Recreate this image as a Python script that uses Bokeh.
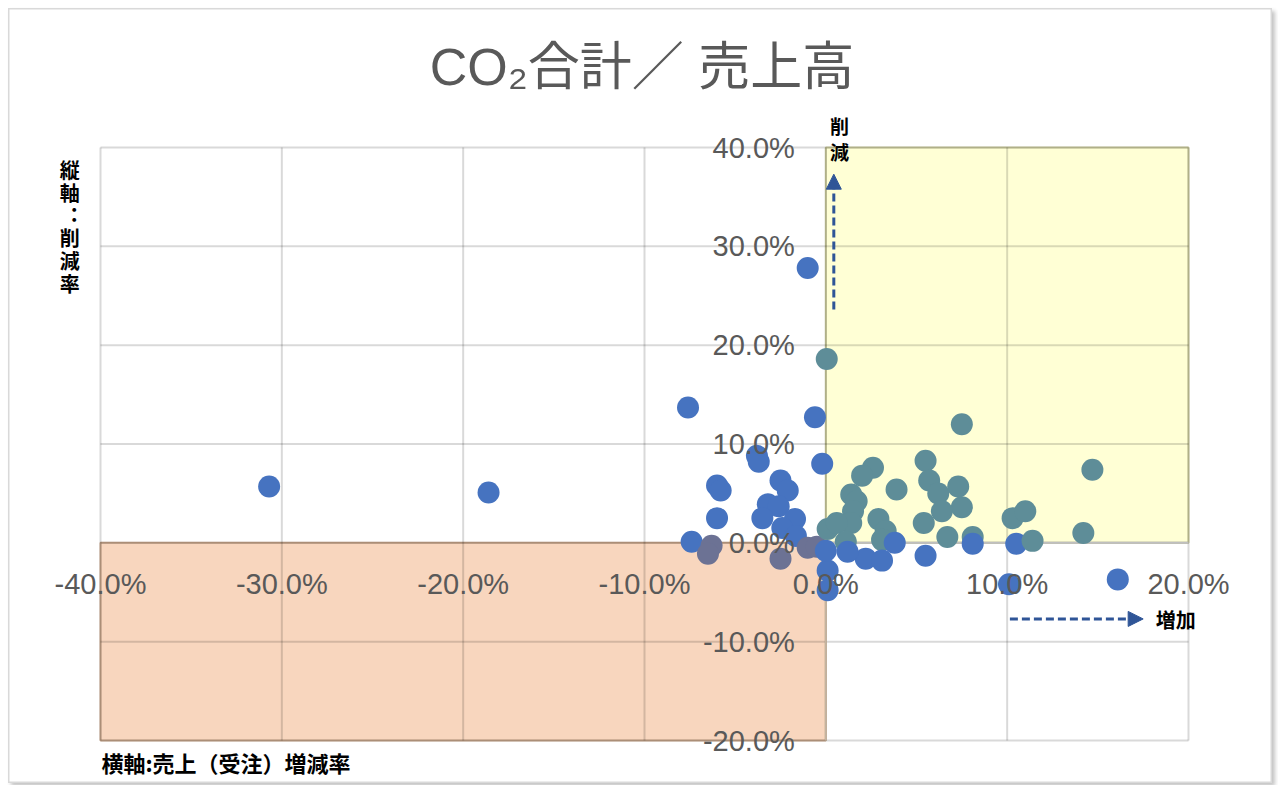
from bokeh.plotting import figure
from bokeh.models import Arrow, NormalHead, Range1d
from bokeh.embed import file_html
from bokeh.resources import INLINE
from bokeh.core.properties import value

# ---- data, percent ----
sales_change = [-30.7, -18.6, -7.6, -1.0, 0.05, -0.6, 7.5, 14.7, 16.1, 10.1,
                14.2, 10.3, 11.0, 10.5, 11.4, -3.8, -3.7, -0.2, -6.0, -5.8,
                -2.5, -2.1, -3.2, -2.6, -3.5, -6.0, -1.7, -2.4, -1.65, -7.4,
                -6.3, -6.5, -2.5, -1.0, -0.5, 0.1, 0.1, 0.0, 0.1, 2.6,
                2.0, 3.9, 1.4, 1.7, 1.5, 1.4, 0.6, 2.9, 3.3, 1.1,
                3.1, 3.8, 2.2, 3.1, 1.2, 5.5, 5.7, 6.2, 7.3, 7.5,
                6.4, 5.4, 6.7, 8.1, 8.1, 5.5]
co2_reduction = [5.7, 5.1, 13.7, 27.8, 18.6, 12.7, 12.0, 7.4, -3.7, -4.2,
                 1.0, 2.5, 3.2, -0.1, 0.2, 8.8, 8.2, 8.0, 5.8, 5.3,
                 6.3, 5.3, 3.9, 3.7, 2.5, 2.5, 2.4, 1.5, 0.7, 0.1,
                 -0.3, -1.1, -1.6, -0.5, -0.4, -2.8, -4.8, -0.8, 1.4, 7.6,
                 6.8, 5.4, 4.9, 4.2, 3.2, 2.0, 2.0, 2.4, 1.2, 0.1,
                 0.3, 0.0, -1.6, -1.8, -0.9, 8.3, 6.3, 5.0, 5.7, 3.6,
                 3.2, 2.0, 0.6, 0.6, -0.1, -1.3]

x_ticks = [-40, -30, -20, -10, 0, 10, 20]
x_tick_labels = ["-40.0%", "-30.0%", "-20.0%", "-10.0%", "0.0%", "10.0%", "20.0%"]
y_ticks = [-20, -10, 0, 10, 20, 30, 40]
y_tick_labels = ["-20.0%", "-10.0%", "0.0%", "10.0%", "20.0%", "30.0%", "40.0%"]

title_text = "CO₂合計／ 売上高"
y_title = "縦\n軸\n︓\n削\n減\n率"
x_title = "横軸:売上（受注）増減率"
up_text = "削\n減"
right_text = "増加"

X_MIN, X_MAX = x_ticks[0], x_ticks[-1]
Y_MIN, Y_MAX = y_ticks[0], y_ticks[-1]

BLUE = "#4673C0"
TEAL = "#5E8D98"
GREY = "#6C7294"
ARROW = "#2F5597"
TICK = "#595959"
CJK = value("Noto Sans CJK JP")
LAT = value("Liberation Sans")
TITLE_FONT = value("Liberation Sans, Noto Sans CJK JP")

# ---- layout: the whole canvas is the frame; plot area mapped inside ----
W, H = 1264, 775            # chart box (page 8..1272, 8..783)
PA_L, PA_R = 92, 1180       # plot-area pixels inside canvas
PA_T, PA_B = 139, 732
sx = (PA_R - PA_L) / (X_MAX - X_MIN)
sy = (PA_B - PA_T) / (Y_MAX - Y_MIN)
x_range = Range1d(X_MIN - PA_L / sx, X_MAX + (W - PA_R) / sx)
y_range = Range1d(Y_MIN - (H - PA_B) / sy, Y_MAX + PA_T / sy)

colors = []
for xv, yv in zip(sales_change, co2_reduction):
    if xv > 0 and yv > 0:
        colors.append(TEAL)
    elif xv < 0 and yv < 0:
        colors.append(GREY)
    else:
        colors.append(BLUE)

p = figure(width=W, height=H, x_range=x_range, y_range=y_range,
           output_backend="svg", toolbar_location=None,
           min_border=0, min_border_left=0, min_border_right=0,
           min_border_top=0, min_border_bottom=0)
p.xaxis.visible = False
p.yaxis.visible = False
p.xgrid.visible = False
p.ygrid.visible = False
p.outline_line_color = "#d9d9d9"
p.outline_line_width = 2
p.background_fill_color = "white"
p.border_fill_color = "white"
p.styles = {"margin-left": "8px", "margin-top": "8px",
            "box-shadow": "3px 3px 4px #c4c4c4"}

# quadrant regions
p.quad(left=[0], right=[X_MAX], bottom=[0], top=[Y_MAX],
       fill_color="#FFFFD5", line_color="#CFCFA0", line_width=2)
p.quad(left=[X_MIN], right=[0], bottom=[Y_MIN], top=[0],
       fill_color="#F8D6BE", line_color="#C9A78C", line_width=2)

# grid lines, bounded to plot area
p.segment(x0=x_ticks, y0=[Y_MIN] * len(x_ticks), x1=x_ticks, y1=[Y_MAX] * len(x_ticks),
          line_color="black", line_alpha=0.15, line_width=2)
p.segment(x0=[X_MIN] * len(y_ticks), y0=y_ticks, x1=[X_MAX] * len(y_ticks), y1=y_ticks,
          line_color="black", line_alpha=0.15, line_width=2)
# axis lines through zero
p.segment(x0=[0], y0=[0], x1=[X_MAX], y1=[0], line_color="#bfbfbf", line_width=2)
p.segment(x0=[0], y0=[Y_MIN], x1=[0], y1=[0], line_color="#c4b4a0", line_width=2)

p.scatter(sales_change, co2_reduction, size=22, fill_color=colors, line_color=None)

# tick labels
p.text(x=x_ticks, y=[0] * len(x_ticks), text=x_tick_labels, y_offset=41,
       text_align="center", text_baseline="middle", text_font=LAT,
       text_font_size="29px", text_color=TICK)
p.text(x=[0] * len(y_ticks), y=y_ticks, text=y_tick_labels, x_offset=-31,
       text_align="right", text_baseline="middle", text_font=LAT,
       text_font_size="29px", text_color=TICK)

# title and annotation texts
p.text(x=[-10.14], y=[48.1], text=[title_text], text_align="center",
       text_baseline="middle", text_font=TITLE_FONT, text_font_size="52px",
       text_color=TICK)
p.text(x=[-41.7], y=[39.2], text=[y_title], text_align="center",
       text_baseline="top", text_font=CJK, text_font_size="20px",
       text_font_style="bold", text_color="black", text_line_height=0.78)
p.text(x=[0.75], y=[43.6], text=[up_text], text_align="center",
       text_baseline="top", text_font=CJK, text_font_size="19px",
       text_font_style="bold", text_color="black", text_line_height=0.95)
p.text(x=[18.2], y=[-7.8], text=[right_text], text_align="left",
       text_baseline="middle", text_font=CJK, text_font_size="20px",
       text_font_style="bold", text_color="black")
p.text(x=[-39.95], y=[-22.2], text=[x_title], text_align="left",
       text_baseline="middle", text_font=CJK, text_font_size="22px",
       text_font_style="bold", text_color="black")

# arrows
p.add_layout(Arrow(end=NormalHead(size=15, fill_color=ARROW, line_color=ARROW),
                   x_start=0.44, y_start=23.6, x_end=0.44, y_end=37.3,
                   line_color=ARROW, line_width=3, line_dash="8 4"))
p.add_layout(Arrow(end=NormalHead(size=15, fill_color=ARROW, line_color=ARROW),
                   x_start=10.15, y_start=-7.7, x_end=17.5, y_end=-7.7,
                   line_color=ARROW, line_width=3, line_dash="8 4"))

open("out.html", "w").write(file_html(p, INLINE))
